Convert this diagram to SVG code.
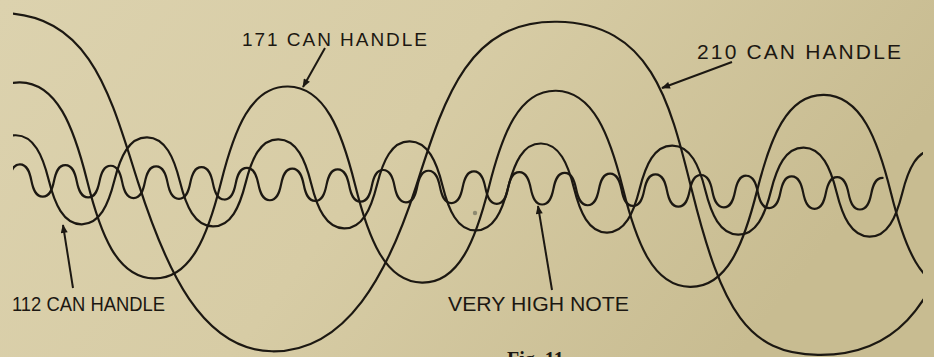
<svg xmlns="http://www.w3.org/2000/svg" width="934" height="357" viewBox="0 0 934 357">
<defs>
<linearGradient id="bg" x1="0" y1="0" x2="1" y2="0.3">
<stop offset="0" stop-color="#dcd2ae"/>
<stop offset="0.5" stop-color="#d7cca5"/>
<stop offset="1" stop-color="#c8bc91"/>
</linearGradient>
<clipPath id="clip"><rect x="13" y="0" width="910" height="357"/></clipPath>
<marker id="ah" viewBox="0 0 10 8" refX="9" refY="4" markerWidth="10" markerHeight="7" orient="auto" markerUnits="userSpaceOnUse"><path d="M0,0 L10,4 L0,8 z" fill="#1c1812"/></marker>
</defs>
<style>
.w{fill:none;stroke:#1c1812;stroke-width:2.2;stroke-linecap:round;stroke-linejoin:round}
.a{fill:none;stroke:#1c1812;stroke-width:2}
.t{font-family:"Liberation Sans","DejaVu Sans",sans-serif;fill:#1c1812}
</style>
<rect width="934" height="357" fill="url(#bg)"/>
<g clip-path="url(#clip)">
<g transform="skewY(0.9)">
<g id="wave-210">
<path class="w" d="M-136,180 C-108,93 -89,13 1,13 C91,13 110,93 138,180 C166,267 202,347 272,347 C347,347 388,267 416,180 C444,93 467,13 557,13 C652,13 670,92 692,180 C722,300 748,342 818,342 C890,342 935,300 965,180"/>
</g>
<g id="wave-171">
<path class="w" d="M-248,82 c36.98,0 53.61,43.46 67,97 s30.02,97 67,97 s53.61,-43.46 67,-97 s30.02,-97 67,-97 s53.61,43.46 67,97 s30.02,97 67,97 s53.61,-43.46 67,-97 s30.02,-97 67,-97 s53.61,43.46 67,97 s30.02,97 67,97 s53.61,-43.46 67,-97 s30.02,-97 67,-97 s53.61,43.46 67,97 s30.02,97 67,97 s53.61,-43.46 67,-97 s30.02,-97 67,-97 s53.61,43.46 67,97 s30.02,97 67,97"/>
</g>
<g id="wave-112">
<path class="w" d="M-115.5,135 c18.12,0 26.76,19.71 32.83,44 s14.71,44 32.83,44 s26.76,-19.71 32.83,-44 s14.71,-44 32.83,-44 s26.76,19.71 32.83,44 s14.71,44 32.83,44 s26.76,-19.71 32.83,-44 s14.71,-44 32.83,-44 s26.76,19.71 32.83,44 s14.71,44 32.83,44 s26.76,-19.71 32.83,-44 s14.71,-44 32.83,-44 s26.76,19.71 32.83,44 s14.71,44 32.83,44 s26.76,-19.71 32.83,-44 s14.71,-44 32.83,-44 s26.76,19.71 32.83,44 s14.71,44 32.83,44 s26.76,-19.71 32.83,-44 s14.71,-44 32.83,-44 s26.76,19.71 32.83,44 s14.71,44 32.83,44 s26.76,-19.71 32.83,-44 s14.71,-44 32.83,-44 s26.76,19.71 32.83,44 s14.71,44 32.83,44 s26.76,-19.71 32.83,-44 s14.71,-44 32.83,-44 s26.76,19.71 32.83,44 s14.71,44 32.83,44 s26.76,-19.71 32.83,-44 s14.71,-44 32.83,-44"/>
</g>
<g id="wave-high-note">
<path class="w" d="M-25.4,164 c7.04,0 9.58,7.17 11.35,16 s4.31,16 11.35,16 s9.58,-7.17 11.35,-16 s4.31,-16 11.35,-16 s9.58,7.17 11.35,16 s4.31,16 11.35,16 s9.58,-7.17 11.35,-16 s4.31,-16 11.35,-16 s9.58,7.17 11.35,16 s4.31,16 11.35,16 s9.58,-7.17 11.35,-16 s4.31,-16 11.35,-16 s9.58,7.17 11.35,16 s4.31,16 11.35,16 s9.58,-7.17 11.35,-16 s4.31,-16 11.35,-16 s9.58,7.17 11.35,16 s4.31,16 11.35,16 s9.58,-7.17 11.35,-16 s4.31,-16 11.35,-16 s9.58,7.17 11.35,16 s4.31,16 11.35,16 s9.58,-7.17 11.35,-16 s4.31,-16 11.35,-16 s9.58,7.17 11.35,16 s4.31,16 11.35,16 s9.58,-7.17 11.35,-16 s4.31,-16 11.35,-16 s9.58,7.17 11.35,16 s4.31,16 11.35,16 s9.58,-7.17 11.35,-16 s4.31,-16 11.35,-16 s9.58,7.17 11.35,16 s4.31,16 11.35,16 s9.58,-7.17 11.35,-16 s4.31,-16 11.35,-16 s9.58,7.17 11.35,16 s4.31,16 11.35,16 s9.58,-7.17 11.35,-16 s4.31,-16 11.35,-16 s9.58,7.17 11.35,16 s4.31,16 11.35,16 s9.58,-7.17 11.35,-16 s4.31,-16 11.35,-16 s9.58,7.17 11.35,16 s4.31,16 11.35,16 s9.58,-7.17 11.35,-16 s4.31,-16 11.35,-16 s9.58,7.17 11.35,16 s4.31,16 11.35,16 s9.58,-7.17 11.35,-16 s4.31,-16 11.35,-16 s9.58,7.17 11.35,16 s4.31,16 11.35,16 s9.58,-7.17 11.35,-16 s4.31,-16 11.35,-16 s9.58,7.17 11.35,16 s4.31,16 11.35,16 s9.58,-7.17 11.35,-16 s4.31,-16 11.35,-16 s9.58,7.17 11.35,16 s4.31,16 11.35,16 s9.58,-7.17 11.35,-16 s4.31,-16 11.35,-16 s9.58,7.17 11.35,16 s4.31,16 11.35,16 s9.58,-7.17 11.35,-16 s4.31,-16 11.35,-16 s9.58,7.17 11.35,16 s4.31,16 11.35,16 s9.58,-7.17 11.35,-16 s4.31,-16 11.35,-16 s9.58,7.17 11.35,16 s4.31,16 11.35,16 s9.58,-7.17 11.35,-16 s4.31,-16 11.35,-16 s9.58,7.17 11.35,16 s4.31,16 11.35,16 s9.58,-7.17 11.35,-16 s4.31,-16 11.35,-16"/>
</g>
</g>
</g>
<g id="connectors">
<line class="a" x1="325" y1="48" x2="303" y2="87" marker-end="url(#ah)"/>
<line class="a" x1="732" y1="62" x2="662" y2="88" marker-end="url(#ah)"/>
<line class="a" x1="73" y1="288" x2="63" y2="225" marker-end="url(#ah)"/>
<line class="a" x1="552" y1="290" x2="538" y2="206" marker-end="url(#ah)"/>
</g>
<g id="label-171"><text class="t" x="242" y="46" font-size="19" textLength="185" lengthAdjust="spacing">171 CAN HANDLE</text></g>
<g id="label-210"><text class="t" x="697" y="59" font-size="21" textLength="204" lengthAdjust="spacing">210 CAN HANDLE</text></g>
<g id="label-112"><text class="t" x="12" y="311" font-size="21" textLength="153" lengthAdjust="spacingAndGlyphs">112 CAN HANDLE</text></g>
<g id="label-high-note"><text class="t" x="448" y="311" font-size="21" textLength="181" lengthAdjust="spacingAndGlyphs">VERY HIGH NOTE</text></g>
<g id="caption"><text x="507" y="366" font-family="'Liberation Serif',serif" font-weight="bold" font-size="20" fill="#1c1812">Fig. 11</text></g>
<circle cx="475" cy="213" r="2.2" fill="#8e8a70"/>
</svg>
